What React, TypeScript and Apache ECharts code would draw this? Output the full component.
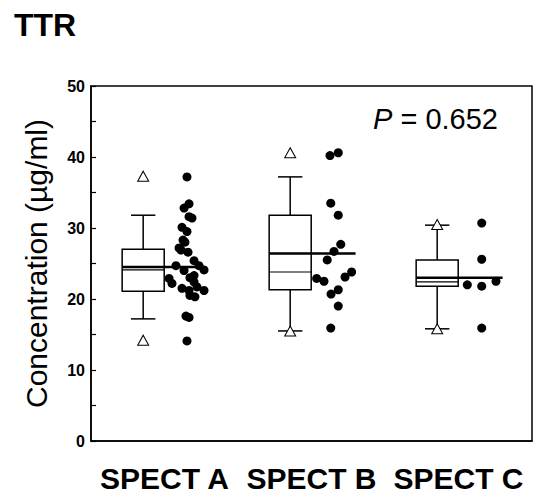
import React, { useEffect, useRef } from "react";
import * as echarts from "echarts";

const categories = ["SPECT A", "SPECT B", "SPECT C"];
const yTicks = [0, 10, 20, 30, 40, 50];

// box statistics per group
const whiskerLow = [17.2, 15.5, 15.8];
const q1 = [21.1, 21.3, 21.8];
const median = [24.1, 23.8, 22.4];
const q3 = [27.0, 31.8, 25.5];
const whiskerHigh = [31.8, 37.2, 30.4];
const mean = [24.5, 26.4, 23.0];
const extremeHigh = [37.3, 40.6, 30.5];
const extremeLow = [14.2, 15.5, 15.8];

// individual observations (value, jitter offset in category units)
const valuesA = [37.2, 33.4, 32.8, 31.6, 31.4, 30.1, 29.5, 28.3, 28.0, 27.2, 26.9, 26.6, 25.4, 24.7, 24.0, 24.7, 24.1, 23.0, 23.3, 22.9, 22.2, 22.4, 21.5, 21.2, 21.7, 21.2, 20.5, 20.3, 17.6, 17.4, 14.1];
const jitterA = [0.153, 0.167, 0.133, 0.167, 0.187, 0.119, 0.153, 0.126, 0.139, 0.099, 0.112, 0.160, 0.201, 0.078, 0.133, 0.235, 0.269, 0.173, 0.201, 0.031, 0.051, 0.201, 0.119, 0.167, 0.221, 0.269, 0.173, 0.207, 0.146, 0.167, 0.153];
const valuesB = [40.2, 40.6, 33.5, 31.8, 27.7, 26.7, 25.5, 22.9, 22.5, 23.8, 23.1, 21.3, 20.7, 19.0, 15.9];
const jitterB = [0.126, 0.182, 0.131, 0.182, 0.199, 0.153, 0.107, 0.035, 0.085, 0.273, 0.228, 0.182, 0.133, 0.182, 0.131];
const valuesC = [30.7, 25.6, 22.0, 21.8, 22.5, 15.9];
const jitterC = [0.158, 0.158, 0.06, 0.158, 0.255, 0.158];

const pText = "0.652";

const FONT = '"Liberation Sans", Arial, Helvetica, sans-serif';
const BOX_OFFSET = -0.145;
const BOX_HALF = 0.143;
const CAP_HALF = 0.083;
const MEAN_END = [0.22, 0.3, 0.3];

export default function App() {
  const ref = useRef<HTMLDivElement>(null);
  useEffect(() => {
    if (!ref.current) return;
    const chart = echarts.init(ref.current, null, { renderer: "svg" });

    const boxData = categories.map((_, i) => [i, whiskerLow[i], q1[i], median[i], q3[i], whiskerHigh[i], mean[i]]);
    const triData: number[][] = [];
    categories.forEach((_, i) => {
      triData.push([i + BOX_OFFSET, extremeHigh[i]]);
      triData.push([i + BOX_OFFSET, extremeLow[i]]);
    });
    const dots: number[][] = [];
    [valuesA, valuesB, valuesC].forEach((vals, g) => {
      const jit = [jitterA, jitterB, jitterC][g];
      vals.forEach((v, k) => dots.push([g + jit[k], v]));
    });

    const lineStyle = { stroke: "#000", lineWidth: 1.5 };

    chart.setOption({
      animation: false,
      backgroundColor: "#fff",
      title: {
        text: "TTR",
        left: 9,
        top: 4,
        textStyle: { fontFamily: FONT, fontWeight: "bold", fontSize: 32, color: "#000" },
      },
      grid: {
        left: 91,
        right: 3,
        top: 86,
        bottom: 51,
        show: true,
        borderColor: "#000",
        borderWidth: 1.5,
        containLabel: false,
      },
      xAxis: [
        {
          type: "category",
          data: categories,
          boundaryGap: true,
          axisLine: { onZero: false, lineStyle: { color: "#000", width: 1.5 } },
          axisTick: { inside: true, alignWithLabel: true, length: 6, lineStyle: { color: "#000", width: 1.2 } },
          axisLabel: { interval: 0, fontFamily: FONT, fontWeight: "bold", fontSize: 30, color: "#000", margin: 22 },
          splitLine: { show: false },
        },
        { type: "value", min: -0.5, max: 2.5, show: false },
      ],
      yAxis: {
        type: "value",
        min: yTicks[0],
        max: yTicks[yTicks.length - 1],
        interval: 10,
        name: "Concentration (µg/ml)",
        nameLocation: "middle",
        nameGap: 40,
        nameTextStyle: { fontFamily: FONT, fontSize: 30, color: "#000" },
        axisLine: { show: true, onZero: false, lineStyle: { color: "#000", width: 1.5 } },
        axisTick: { inside: true, length: 5, lineStyle: { color: "#000", width: 1.2 } },
        minorTick: { show: true, splitNumber: 2, length: 5, lineStyle: { color: "#000", width: 1.2 } },
        axisLabel: { fontFamily: FONT, fontWeight: "bold", fontSize: 16, color: "#000", margin: 6 },
        splitLine: { show: false },
      },
      graphic: [
        {
          type: "text",
          x: 373,
          y: 119,
          style: {
            text: "{i|P} = " + pText,
            font: `29px ${FONT}`,
            fill: "#000",
            verticalAlign: "middle",
            rich: { i: { fontStyle: "italic", fontSize: 29, fontFamily: FONT } },
          },
        },
      ],
      series: [
        {
          type: "custom",
          xAxisIndex: 1,
          z: 2,
          data: boxData,
          encode: { x: 0, y: [1, 2, 3, 4, 5] },
          renderItem: (params: any, api: any) => {
            const i = api.value(0);
            const cx = i + BOX_OFFSET;
            const lo = api.value(1), a = api.value(2), md = api.value(3), b = api.value(4), hi = api.value(5), mn = api.value(6);
            const P = (dx: number, v: number) => api.coord([cx + dx, v]);
            const tl = P(-BOX_HALF, b);
            const br = P(BOX_HALF, a);
            const line = (p1: number[], p2: number[], w = 1.5) => ({
              type: "line",
              shape: { x1: p1[0], y1: p1[1], x2: p2[0], y2: p2[1] },
              style: { stroke: "#000", lineWidth: w },
            });
            const meanEnd = api.coord([i + MEAN_END[i], mn]);
            return {
              type: "group",
              children: [
                line(P(0, hi), P(0, b)),
                line(P(0, a), P(0, lo)),
                line(P(-CAP_HALF, hi), P(CAP_HALF, hi)),
                line(P(-CAP_HALF, lo), P(CAP_HALF, lo)),
                {
                  type: "rect",
                  shape: { x: tl[0], y: tl[1], width: br[0] - tl[0], height: br[1] - tl[1] },
                  style: { ...lineStyle, fill: "#fff" },
                },
                line(P(-BOX_HALF, md), P(BOX_HALF, md), 1.2),
                line(P(-BOX_HALF, mn), meanEnd, 2.5),
              ],
            };
          },
        },
        {
          type: "scatter",
          xAxisIndex: 1,
          z: 3,
          symbol: "triangle",
          symbolSize: [11, 10],
          itemStyle: { color: "#fff", borderColor: "#000", borderWidth: 1, opacity: 1 },
          data: triData,
        },
        {
          type: "scatter",
          xAxisIndex: 1,
          z: 4,
          symbol: "circle",
          symbolSize: 9,
          itemStyle: { color: "#000", opacity: 1 },
          data: dots,
        },
      ],
    });
    return () => chart.dispose();
  }, []);
  return <div ref={ref} style={{ width: 535, height: 493, position: "absolute", left: 0, top: 0 }} />;
}
